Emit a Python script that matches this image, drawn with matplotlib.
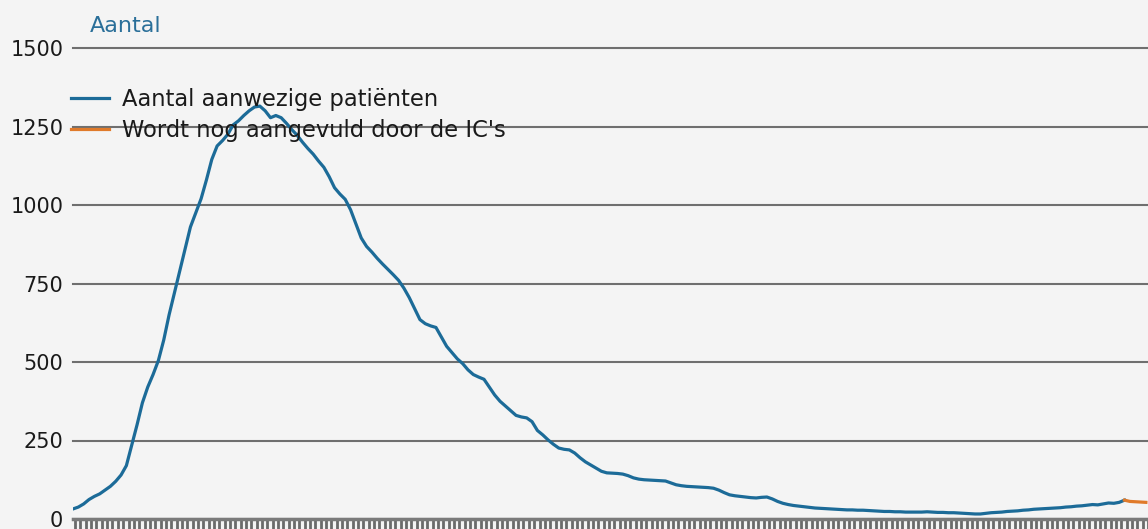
import numpy as np
import matplotlib.pyplot as plt

# IC bezetting, one value per day
aanwezig = [32, 38, 48, 62, 72, 80, 92, 104, 120, 140,
            170, 235, 300, 370, 420, 460, 505, 570, 650, 720,
            790, 860, 930, 975, 1020, 1080, 1145, 1188, 1205, 1225,
            1255, 1268, 1285, 1300, 1312, 1315, 1300, 1278, 1285, 1278,
            1260, 1240, 1222, 1200, 1180, 1162, 1140, 1120, 1090, 1055,
            1035, 1018, 985, 940, 895, 868, 850, 830, 812, 795,
            778, 760, 735, 705, 670, 635, 622, 615, 610, 580,
            550, 530, 510, 495, 475, 460, 452, 445, 420, 395,
            375, 360, 345, 330, 325, 322, 310, 282, 268, 252,
            238, 226, 222, 220, 210, 195, 182, 172, 162, 152,
            147, 146, 145, 143, 138, 131, 127, 125, 124, 123,
            122, 121, 115, 109, 106, 104, 103, 102, 101, 100,
            98, 92, 84, 77, 74, 72, 70, 68, 67, 69,
            70, 64, 56, 50, 46, 43, 41, 39, 37, 35,
            34, 33, 32, 31, 30, 29, 29, 28, 28, 27,
            26, 25, 24, 24, 23, 23, 22, 22, 22, 22,
            23, 22, 21, 21, 20, 20, 19, 18, 17, 16,
            16, 18, 20, 21, 22, 24, 25, 26, 28, 29,
            31, 32, 33, 34, 35, 36, 38, 39, 41, 42,
            44, 46, 45, 48, 51, 50, 53, 60]
aangevuld = [60, 56, 55, 54, 53]

y_ticks = [0, 250, 500, 750, 1000, 1250, 1500]

blue = '#1c6b98'
orange = '#e07a2a'
bg = '#f4f4f4'

n_blue = len(aanwezig)
days_blue = np.arange(n_blue)
days_orange = np.arange(n_blue - 1, n_blue - 1 + len(aangevuld))
n_days = days_orange[-1]

fig = plt.figure(figsize=(11.48, 5.29), dpi=100, facecolor=bg)
ax = fig.add_axes([73 / 1148, 1 - 519 / 529, 1 - 73 / 1148, (519 - 48) / 529])
ax.set_facecolor(bg)

ax.plot(days_blue, aanwezig, color=blue, lw=2.3, label='Aantal aanwezige patiënten',
        solid_joinstyle='round', zorder=3)
ax.plot(days_orange, aangevuld, color=orange, lw=2.3, label="Wordt nog aangevuld door de IC's",
        zorder=3)

ax.set_xlim(0, n_days)
ax.set_ylim(0, 1500)
ax.set_yticks(y_ticks)
ax.set_yticklabels([str(v) for v in y_ticks], fontsize=15, color='#1a1a1a')
ax.tick_params(axis='y', length=0, pad=7)

ax.set_xticks(np.arange(0.4, n_days + 1))
ax.set_xticklabels([])
ax.tick_params(axis='x', length=7, width=2, color='#6a6a6a', direction='out')

ax.grid(axis='y', color='#6f6f6f', lw=1.5)
for gl in ax.get_ygridlines():
    gl.set_clip_on(False)
ax.set_axisbelow(True)
for side in ['top', 'right', 'left']:
    ax.spines[side].set_visible(False)
ax.spines['bottom'].set_color('#7a7a7a')
ax.spines['bottom'].set_linewidth(2.5)

fig.text(90 / 1148, 1 - 26 / 529, 'Aantal', color='#2a6f99', fontsize=16,
         va='center', ha='left')

leg = ax.legend(loc='upper left', bbox_to_anchor=(71 / 1148, 1 - 88 / 529),
                bbox_transform=fig.transFigure, frameon=False, fontsize=16.3,
                handlelength=1.7, handletextpad=0.55, labelspacing=0.34,
                borderaxespad=0, borderpad=0)
for t in leg.get_texts():
    t.set_color('#1a1a1a')

fig.savefig('out.png', dpi=100, facecolor=bg)
